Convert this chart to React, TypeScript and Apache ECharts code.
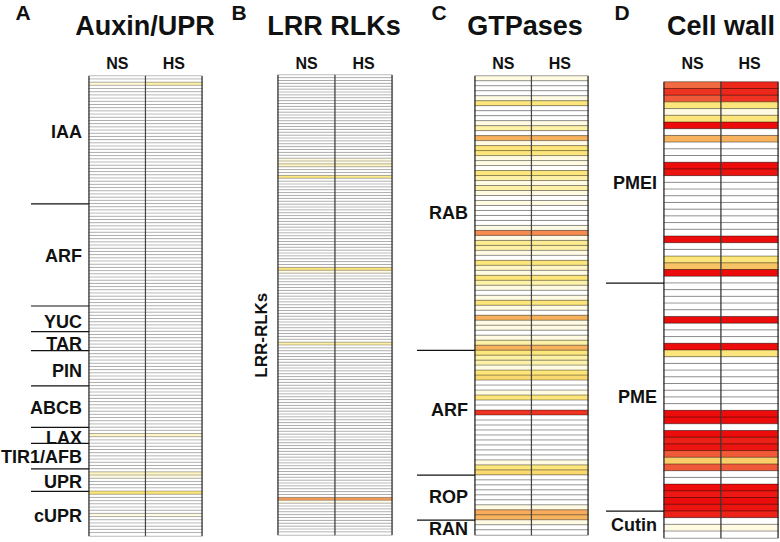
import React, { useEffect, useRef } from 'react';
import * as echarts from 'echarts';

const FONT = '"Liberation Sans", Arial, Helvetica, sans-serif';
const W = 780;
const H = 542;

const CONDITIONS = ['NS', 'HS'];
const PANEL_LETTERS = ['A', 'B', 'C', 'D'];
const PANEL_TITLES = ['Auxin/UPR', 'LRR RLKs', 'GTPases', 'Cell wall'];

// ---------- Panel A: Auxin/UPR ----------
const A_GROUPS = ['IAA', 'ARF', 'YUC', 'TAR', 'PIN', 'ABCB', 'LAX', 'TIR1/AFB', 'UPR', 'cUPR'];
const A_SIZES = [40, 32, 8, 6, 11, 13, 5, 8, 7, 14];
const A_LABEL_ROWS = [17, 56, 76.5, 83.3, 91.7, 103.4, 112.7, 118.8, 126.7, 137.3];
const A_NS = [
  // IAA
  0, 0, 1.2, 0, 0, 0, 0, 0, 0, 0,
  0, 0, 0, 0, 0, 0, 0, 0, 0, 0,
  0, 0, 0, 0, 0, 0, 0, 0, 0, 0,
  0, 0, 0, 0, 0, 0, 0, 0, 0, 0,
  // ARF
  0, 0, 0, 0, 0, 0, 0, 0, 0, 0,
  0, 0, 0, 0, 0, 0, 0, 0, 0, 0,
  0, 0, 0, 0, 0, 0, 0, 0, 0, 0,
  0, 0,
  // YUC
  0, 0, 0, 0, 0, 0, 0, 0,
  // TAR
  0, 0, 0, 0, 0, 0,
  // PIN
  0, 0, 0, 0, 0, 0, 0, 0, 0, 0, 0,
  // ABCB
  0, 0, 0, 0, 0, 0, 0, 0, 0, 0, 0, 0, 0,
  // LAX
  0, 0, 1.5, 0, 0,
  // TIR1/AFB
  0, 0, 0, 0, 0, 0, 0, 0,
  // UPR
  0, 1.5, 1, 0, 0, 0, 0,
  // cUPR
  3, 0, 0, 0, 0, 0, 0, 1, 0, 0, 0, 0, 0, 0,
];
const A_HS = [
  // IAA
  0, 0, 2, 0, 0, 0, 0, 0, 0, 0,
  0, 0, 0, 0, 0, 0, 0, 0, 0, 0,
  0, 0, 0, 0, 0, 0, 0, 0, 0, 0,
  0, 0, 0, 0, 0, 0, 0, 0, 0, 0,
  // ARF
  0, 0, 0, 0, 0, 0, 0, 0, 0, 0,
  0, 0, 0, 0, 0, 0, 0, 0, 0, 0,
  0, 0, 0, 0, 0, 0, 0, 0, 0, 0,
  0, 0,
  // YUC
  0, 0, 0, 0, 0, 0, 0, 0,
  // TAR
  0, 0, 0, 0, 0, 0,
  // PIN
  0, 0, 0, 0, 0, 0, 0, 0, 0, 0, 0,
  // ABCB
  0, 0, 0, 0, 0, 0, 0, 0, 0, 0, 0, 0, 0,
  // LAX
  0, 0, 1.5, 0, 0,
  // TIR1/AFB
  0, 0, 0, 0, 0, 0, 0, 0,
  // UPR
  0, 1.5, 1, 0, 0, 0, 0,
  // cUPR
  3, 0, 0, 0, 0, 0, 0, 1, 0, 0, 0, 0, 0, 0,
];

// ---------- Panel B: LRR RLKs ----------
const B_GROUPS = ['LRR-RLKs'];
const B_SIZES = [160];
const B_LABEL_ROWS = [90];
const B_NS = [
  0, 0, 0, 0, 0, 0, 0, 0, 0, 0,
  0, 0, 0, 0, 0, 0, 0, 0, 0, 0,
  0, 0, 0, 0, 0, 0, 0, 0, 0, 1,
  1, 1.5, 0, 0, 0, 2.8, 0, 0, 0, 0,
  0, 0, 0, 0, 0, 0, 0, 0, 0, 0,
  0, 0, 0, 0, 0, 0, 0, 0, 0, 0,
  0, 0, 0, 0, 0, 0, 0, 2.8, 1, 0,
  0, 0, 0, 0, 0, 0, 0, 0, 0, 0,
  0, 0, 0, 0, 0, 0, 0, 0, 0, 0,
  0, 0, 0, 2, 0, 0, 0, 0, 0, 0,
  0, 0, 0, 0, 0, 0, 0, 0, 0, 0,
  0, 0, 0, 0, 0, 0, 0, 0, 0, 0,
  0, 0, 0, 0, 0, 0, 0, 0, 0, 0,
  0, 0, 0, 0, 0, 0, 0, 0, 0, 0,
  0, 0, 0, 0, 0, 0, 0, 5.2, 0.8, 0,
  0, 0, 0, 0, 0, 0, 0, 0, 0, 0,
];
const B_HS = [
  0, 0, 0, 0, 0, 0, 0, 0, 0, 0,
  0, 0, 0, 0, 0, 0, 0, 0, 0, 0,
  0, 0, 0, 0, 0, 0, 0, 0, 0, 1,
  1, 1.5, 0, 0, 0, 2.5, 0, 0, 0, 0,
  0, 0, 0, 0, 0, 0, 0, 0, 0, 0,
  0, 0, 0, 0, 0, 0, 0, 0, 0, 0,
  0, 0, 0, 0, 0, 0, 0, 2.8, 1, 0,
  0, 0, 0, 0, 0, 0, 0, 0, 0, 0,
  0, 0, 0, 0, 0, 0, 0, 0, 0, 0,
  0, 0, 0, 2, 0, 0, 0, 0, 0, 0,
  0, 0, 0, 0, 0, 0, 0, 0, 0, 0,
  0, 0, 0, 0, 0, 0, 0, 0, 0, 0,
  0, 0, 0, 0, 0, 0, 0, 0, 0, 0,
  0, 0, 0, 0, 0, 0, 0, 0, 0, 0,
  0, 0, 0, 0, 0, 0, 0, 5.2, 0.8, 0,
  0, 0, 0, 0, 0, 0, 0, 0, 0, 0,
];

// ---------- Panel C: GTPases ----------
const C_GROUPS = ['RAB', 'ARF', 'ROP', 'RAN'];
const C_SIZES = [55, 25, 9, 3];
const C_LABEL_ROWS = [27, 66.5, 83.8, 90.3];
const C_NS = [
  // RAB
  1, 0, 0, 0, 1, 3, 0, 0, 0, 1,
  2, 0, 4.8, 1, 3, 3, 1, 1, 0, 3,
  2, 1, 2, 1, 0, 1, 0, 0, 0, 0,
  1, 5.5, 1, 2.5, 2, 1, 0, 3, 1.5, 1,
  3, 2, 1, 0, 1, 3, 1, 0, 4.8, 1,
  1, 0, 1, 2, 4.8,
  // ARF
  3, 2, 2, 1, 3, 3.5, 0, 0, 1, 3,
  0, 0, 7, 0, 0, 0, 0, 0, 0, 0,
  0, 0, 1, 3, 3.5,
  // ROP
  0, 0, 0, 0, 0, 0, 1, 5, 4.7,
  // RAN
  1, 0, 0,
];
const C_HS = [
  // RAB
  1, 0, 0, 0, 1, 3, 0, 0, 0, 1,
  2, 0, 4.8, 1, 3, 3, 1, 1, 0, 3,
  2, 1, 2, 1, 0, 1, 0, 0, 0, 0,
  1, 5.5, 1, 2.5, 2, 1, 0, 3, 1.5, 1,
  3, 2, 1, 0, 1, 3, 1, 0, 4.8, 1,
  1, 0, 1, 2, 4.8,
  // ARF
  3, 2, 2, 1, 3, 3.5, 0, 0, 1, 3,
  0, 0, 7, 0, 0, 0, 0, 0, 0, 0,
  0, 0, 1, 3, 3.5,
  // ROP
  0, 0, 0, 0, 0, 0, 1, 5, 4.7,
  // RAN
  1, 0, 0,
];

// ---------- Panel D: Cell wall ----------
const D_GROUPS = ['PMEI', 'PME', 'Cutin'];
const D_SIZES = [30, 34, 4];
const D_LABEL_ROWS = [14.5, 46.5, 65.5];
const D_NS = [
  // PMEI
  6, 7, 6.3, 3, 1, 3, 8, 0, 4.8, 0,
  0, 0, 8, 7.8, 0, 0, 0, 0, 0, 0,
  0, 0, 0, 8, 0, 0, 3, 4.3, 8, 0,
  // PME
  0, 0, 0, 0, 0, 8, 0, 0, 0, 8,
  3, 0, 0, 0, 0, 0, 0, 0, 0, 8,
  8, 0, 8, 7.5, 7.8, 6.3, 4, 6.3, 0, 0,
  8, 7.7, 8, 7.8,
  // Cutin
  7.4, 0, 1, 0,
];
const D_HS = [
  // PMEI
  7.3, 7.3, 7, 3, 1, 3, 8, 0, 4.8, 0,
  0, 0, 8, 7.8, 0, 0, 0, 0, 0, 0,
  0, 0, 0, 8, 0, 0, 3, 4.3, 8, 0,
  // PME
  0, 0, 0, 0, 0, 8, 0, 0, 0, 8,
  3, 0, 0, 0, 0, 0, 0, 0, 0, 8,
  8, 0, 8, 7.5, 7.8, 6.3, 4, 6.3, 0, 0,
  8, 7.7, 8, 7.8,
  // Cutin
  7.4, 0, 1, 0,
];

const COLOR_SCALE = ['#ffffff', '#fffbe3', '#fdf1a8', '#fce57a', '#f9cd68', '#f7ab5c', '#f26a42', '#ee3322', '#ec0c0c'];

// layout (positions only)
const GRIDS = [
  { left: 89, top: 76, width: 113, height: 460 },
  { left: 278, top: 75, width: 114, height: 460 },
  { left: 475, top: 76, width: 113, height: 459 },
  { left: 664, top: 82, width: 114, height: 456 },
];
const HEADER_MARGIN = [5, 4, 5, 11];
const LETTER_POS = [[23, 12], [239, 12], [439, 12], [622, 12]];
const TITLE_POS = [[145, 26], [334, 26], [525, 26], [721, 26]];
const ROW_LINE = ['rgba(0,0,0,0.27)', 'rgba(0,0,0,0.27)', 'rgba(0,0,0,0.38)', 'rgba(0,0,0,0.4)'];

export default function App() {
  const ref = useRef<HTMLDivElement>(null);

  useEffect(() => {
    const el = ref.current;
    if (!el) return;
    const chart = echarts.init(el, null, { renderer: 'svg' });

    const panels = [
      { ns: A_NS, hs: A_HS, groups: A_GROUPS, sizes: A_SIZES, labelRows: A_LABEL_ROWS, rotate: false },
      { ns: B_NS, hs: B_HS, groups: B_GROUPS, sizes: B_SIZES, labelRows: B_LABEL_ROWS, rotate: true },
      { ns: C_NS, hs: C_HS, groups: C_GROUPS, sizes: C_SIZES, labelRows: C_LABEL_ROWS, rotate: false },
      { ns: D_NS, hs: D_HS, groups: D_GROUPS, sizes: D_SIZES, labelRows: D_LABEL_ROWS, rotate: false },
    ];

    const rowCats = panels.map((p) => {
      const out: string[] = [];
      p.groups.forEach((g, gi) => {
        for (let k = 1; k <= p.sizes[gi]; k++) out.push(`${g} #${k}`);
      });
      return out;
    });

    const baseGraphic: any[] = [];
    PANEL_LETTERS.forEach((t, i) => {
      baseGraphic.push({
        type: 'text', id: 'letter' + i, x: LETTER_POS[i][0], y: LETTER_POS[i][1], z: 100,
        style: { text: t, font: `bold 21px ${FONT}`, fill: '#111', textAlign: 'center', textVerticalAlign: 'middle' },
      });
    });
    PANEL_TITLES.forEach((t, i) => {
      baseGraphic.push({
        type: 'text', id: 'title' + i, x: TITLE_POS[i][0], y: TITLE_POS[i][1], z: 100,
        style: { text: t, font: `bold 27px ${FONT}`, fill: '#111', textAlign: 'center', textVerticalAlign: 'middle' },
      });
    });

    chart.setOption({
      animation: false,
      backgroundColor: '#ffffff',
      grid: GRIDS.map((g) => ({ ...g, containLabel: false })),
      xAxis: panels.map((_, i) => ({
        type: 'category',
        gridIndex: i,
        data: CONDITIONS,
        position: 'top',
        axisLine: { show: false },
        axisTick: { show: false },
        splitLine: { show: false },
        axisLabel: { fontSize: 16, fontWeight: 'bold', color: '#111', fontFamily: FONT, margin: HEADER_MARGIN[i] },
      })),
      yAxis: panels.map((_, i) => ({
        type: 'category',
        gridIndex: i,
        data: rowCats[i],
        inverse: true,
        show: false,
      })),
      visualMap: {
        type: 'continuous',
        show: false,
        min: 0,
        max: 8,
        dimension: 2,
        seriesIndex: [0, 1, 2, 3],
        inRange: { color: COLOR_SCALE },
      },
      series: panels.map((p, i) => ({
        type: 'heatmap',
        xAxisIndex: i,
        yAxisIndex: i,
        data: [
          ...p.ns.map((v, r) => [0, r, v]),
          ...p.hs.map((v, r) => [1, r, v]),
        ],
        itemStyle: { borderColor: ROW_LINE[i], borderWidth: 1 },
        emphasis: { disabled: true },
        label: { show: false },
        silent: true,
      })),
      graphic: baseGraphic,
    });

    const extra: any[] = [];
    panels.forEach((p, i) => {
      const cats = rowCats[i];
      const y0 = chart.convertToPixel({ yAxisIndex: i } as any, cats[0]) as number;
      const y1 = chart.convertToPixel({ yAxisIndex: i } as any, cats[1]) as number;
      const band = y1 - y0;
      const xNS = chart.convertToPixel({ xAxisIndex: i } as any, 'NS') as number;
      const xHS = chart.convertToPixel({ xAxisIndex: i } as any, 'HS') as number;
      const bx = xHS - xNS;
      const left = xNS - bx / 2;
      const mid = xNS + bx / 2;
      const right = xHS + bx / 2;
      const top = y0 - band / 2;
      const bottom = top + band * cats.length;

      const vline = (x: number, color: string, id: string) => ({
        type: 'line', id, z: 100, silent: true,
        shape: { x1: x, y1: top, x2: x, y2: bottom },
        style: { stroke: color, lineWidth: 1.1 },
      });
      extra.push(vline(left, '#2a2a2a', `l${i}`));
      extra.push(vline(mid, '#444444', `m${i}`));
      extra.push(vline(right, '#2a2a2a', `r${i}`));

      let acc = 0;
      p.sizes.forEach((s, g) => {
        if (g > 0) {
          const y = top + band * acc;
          extra.push({
            type: 'line', id: `sep${i}_${g}`, z: 100, silent: true,
            shape: { x1: left - 58, y1: y, x2: left, y2: y },
            style: { stroke: '#111', lineWidth: 1.2 },
          });
        }
        acc += s;
      });

      p.groups.forEach((name, g) => {
        const y = y0 + band * p.labelRows[g];
        if (p.rotate) {
          extra.push({
            type: 'text', id: `lab${i}_${g}`, z: 100, x: left - 17, y, rotation: Math.PI / 2,
            style: { text: name, font: `bold 17px ${FONT}`, fill: '#111', textAlign: 'center', textVerticalAlign: 'middle' },
          });
        } else {
          extra.push({
            type: 'text', id: `lab${i}_${g}`, z: 100, x: left - 7, y,
            style: { text: name, font: `bold 18px ${FONT}`, fill: '#111', textAlign: 'right', textVerticalAlign: 'middle' },
          });
        }
      });
    });

    chart.setOption({ graphic: [...baseGraphic, ...extra] });

    return () => chart.dispose();
  }, []);

  return (
    <div
      ref={ref}
      style={{ position: 'absolute', left: 0, top: 0, width: W, height: H, background: '#fff' }}
    />
  );
}
